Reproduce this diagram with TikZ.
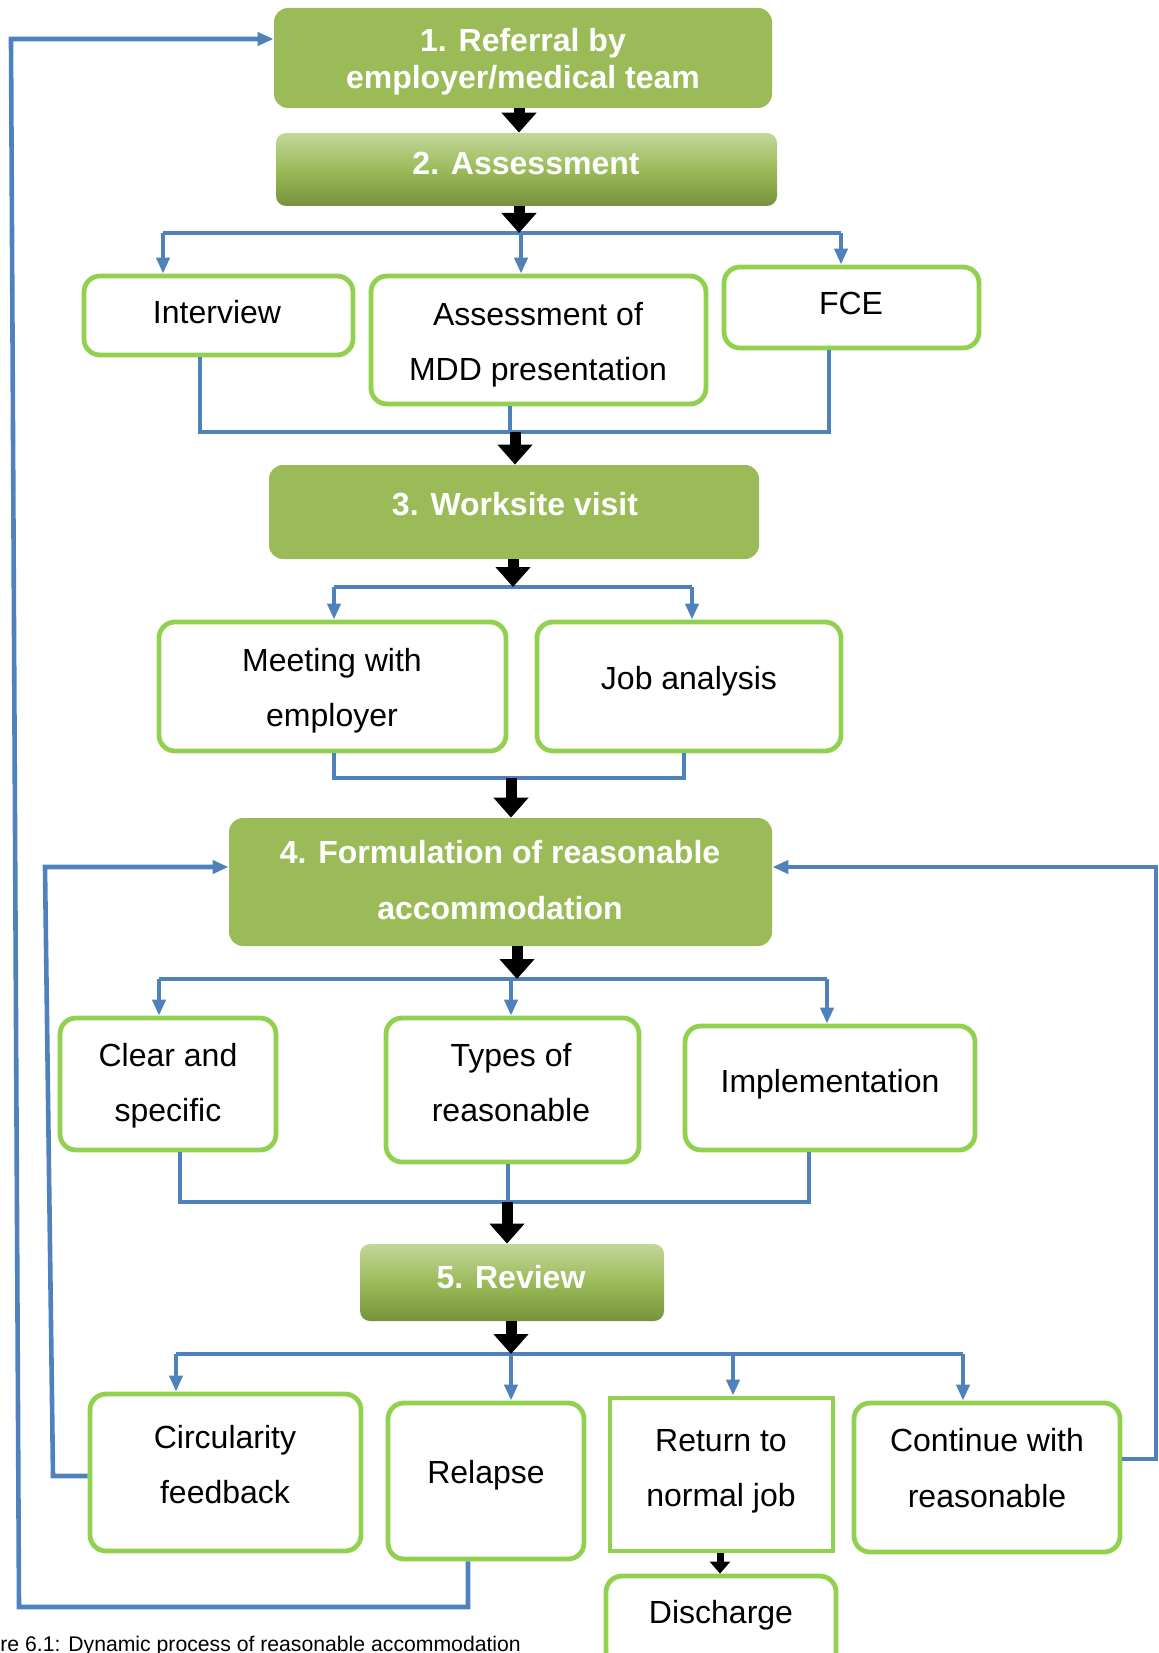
\documentclass[tikz,border=0pt]{standalone}
\usepackage{fontspec}
\setmainfont{Liberation Sans}
\usetikzlibrary{arrows.meta,fit}
\definecolor{gfill}{HTML}{9BBB59}
\definecolor{gtop}{HTML}{C3D69B}
\definecolor{gbot}{HTML}{76923C}
\definecolor{gedge}{HTML}{92D050}
\definecolor{bline}{HTML}{4F81BD}
\tikzset{
 gbox/.style={fill=gfill, rounded corners=7pt, inner sep=0pt},
 gradbox/.style={top color=gtop, bottom color=gbot, middle color=gfill, rounded corners=5pt, inner sep=0pt},
 wbox/.style={draw=gedge, line width=2.4pt, fill=white, rounded corners=8pt, inner sep=0pt},
 sqbox/.style={draw=gedge, line width=2.4pt, fill=white, inner sep=0pt},
 gtxt/.style={text=white, font=\fontsize{16}{18.5}\selectfont\bfseries, align=center, inner sep=0pt, text height=11.5pt, text depth=0pt},
 gtxtw/.style={gtxt, font=\fontsize{16}{28}\selectfont\bfseries},
 wtxt/.style={font=\fontsize{16}{27.75}\selectfont, align=center, inner sep=0pt, text height=11.5pt, text depth=0pt},
 bl/.style={draw=bline, line width=2.3pt},
 blarr/.style={bl, -{Triangle[width=6.5pt,length=8pt]}},
 blk/.style={draw=black, line width=5.5pt, -{Triangle[width=17pt,length=10pt]}},
 blksmall/.style={draw=black, line width=3.5pt, -{Triangle[width=10pt,length=6pt]}},
}
\begin{document}
\begin{tikzpicture}[x=0.5pt,y=-0.5pt]
\useasboundingbox (0,0) rectangle (1158,1653);
\clip (0,0) rectangle (1158,1653);
% boxes
\node[gbox, fit={(274,8) (772,108)}] (b1) {};
\node[gradbox, fit={(276,133) (777,206)}] (b2) {};
\node[wbox, fit={(84,276) (353,355)}] (int) {};
\node[wbox, fit={(371,276) (706,404)}] (mdd) {};
\node[wbox, fit={(724,267) (979,348)}] (fce) {};
\node[gbox, fit={(269,465) (759,559)}] (b3) {};
\node[wbox, fit={(159,622) (506,751)}] (meet) {};
\node[wbox, fit={(537,622) (841,751)}] (job) {};
\node[gbox, fit={(229,818) (772,946)}] (b4) {};
\node[wbox, fit={(60,1018) (276,1150)}] (clear) {};
\node[wbox, fit={(386,1018) (639,1162)}] (types) {};
\node[wbox, fit={(685,1026) (975,1150)}] (impl) {};
\node[gradbox, fit={(360,1244) (664,1321)}] (b5) {};
\node[wbox, fit={(90,1394) (361,1551)}] (circ) {};
\node[wbox, fit={(388,1403) (584,1559)}] (rel) {};
\node[sqbox, fit={(610,1398) (833,1551)}] (ret) {};
\node[wbox, fit={(854,1403) (1120,1552)}] (cont) {};
\node[wbox, fit={(606,1576) (836,1668)}] (dis) {};
% texts
\node[gtxt] (t1) at (523,77) {1. Referral by\\employer/medical team};
\node[gtxt] (t2) at (526,163.5) {2. Assessment};
\node[wtxt] (tint) at (217,312) {Interview};
\node[wtxt] (tmdd) at (538,369) {Assessment of\\MDD presentation};
\node[wtxt] (tfce) at (851,302.7) {FCE};
\node[gtxt] (t3) at (515,504) {3. Worksite visit};
\node[wtxt] (tmeet) at (332,715) {Meeting with\\employer};
\node[wtxt] (tjob) at (689,678) {Job analysis};
\node[gtxtw] (t4) at (500,908) {4. Formulation of reasonable\\accommodation};
\node[wtxt] (tclear) at (168,1110) {Clear and\\specific};
\node[wtxt] (ttypes) at (511,1110) {Types of\\reasonable};
\node[wtxt] (timpl) at (830,1081) {Implementation};
\node[gtxt] (t5) at (511,1277) {5. Review};
\node[wtxt] (tcirc) at (225,1492) {Circularity\\feedback};
\node[wtxt] (trel) at (486,1472) {Relapse};
\node[wtxt] (tret) at (721,1495) {Return to\\normal job};
\node[wtxt] (tcont) at (987,1495.5) {Continue with\\reasonable};
\node[wtxt] (tdis) at (721,1611.5) {Discharge};
\node[anchor=base west, font=\fontsize{10.6}{12}\selectfont, inner sep=0pt] (cap) at (0,1651) {re 6.1: Dynamic process of reasonable accommodation};
% junction coordinates
\coordinate (j2) at (519,233);
\coordinate (jL2) at (163,233);
\coordinate (jM2) at (521,233);
\coordinate (jR2) at (841,233);
\coordinate (mL2) at (200,432);
\coordinate (mM2) at (510,432);
\coordinate (mR2) at (829,432);
\coordinate (m2) at (515,432);
\coordinate (j3) at (513,587);
\coordinate (jL3) at (334,587);
\coordinate (jR3) at (692,587);
\coordinate (mL3) at (334,778);
\coordinate (mR3) at (684,778);
\coordinate (m3) at (511,778);
\coordinate (j4) at (517,979);
\coordinate (jL4) at (159,979);
\coordinate (jM4) at (511,979);
\coordinate (jR4) at (827,979);
\coordinate (mL4) at (180,1202);
\coordinate (mM4) at (508,1202);
\coordinate (mR4) at (809,1202);
\coordinate (m4) at (507,1202);
\coordinate (j5) at (511,1354);
\coordinate (jL5) at (176,1354);
\coordinate (jB5) at (733,1354);
\coordinate (jR5) at (963,1354);
\coordinate (fL1) at (53,1476);
\coordinate (fL2) at (45,867);
\coordinate (fR1) at (1156,1459);
\coordinate (fR2) at (1156,867);
\coordinate (fO1) at (468,1607);
\coordinate (fO2) at (19,1607);
\coordinate (fO3) at (11,39);
\coordinate (jD) at (720,1551);
% blue connectors
\draw[bl] (jL2) -- (jR2);
\draw[blarr] (jL2) -- (jL2 |- int.north);
\draw[blarr] (jM2) -- (jM2 |- mdd.north);
\draw[blarr] (jR2) -- (jR2 |- fce.north);
\draw[bl] (mL2 |- int.south) -- (mL2) -- (mR2) -- (mR2 |- fce.south);
\draw[bl] (mM2 |- mdd.south) -- (mM2);
\draw[bl] (jL3) -- (jR3);
\draw[blarr] (jL3) -- (jL3 |- meet.north);
\draw[blarr] (jR3) -- (jR3 |- job.north);
\draw[bl] (mL3 |- meet.south) -- (mL3) -- (mR3) -- (mR3 |- job.south);
\draw[bl] (jL4) -- (jR4);
\draw[blarr] (jL4) -- (jL4 |- clear.north);
\draw[blarr] (jM4) -- (jM4 |- types.north);
\draw[blarr] (jR4) -- (jR4 |- impl.north);
\draw[bl] (mL4 |- clear.south) -- (mL4) -- (mR4) -- (mR4 |- impl.south);
\draw[bl] (mM4 |- types.south) -- (mM4);
\draw[bl] (jL5) -- (jR5);
\draw[blarr] (jL5) -- (jL5 |- circ.north);
\draw[blarr] (j5) -- (j5 |- rel.north);
\draw[blarr] (jB5) -- (jB5 |- ret.north);
\draw[blarr] (jR5) -- (jR5 |- cont.north);
\draw[blarr] (circ.west |- fL1) -- (fL1) -- (fL2) -- (fL2 -| b4.west);
\draw[blarr] (cont.east |- fR1) -- (fR1) -- (fR2) -- (fR2 -| b4.east);
\draw[blarr] (fO1 |- rel.south) -- (fO1) -- (fO2) -- (fO3) -- (fO3 -| b1.west);
% black arrows
\draw[blk] (b1.south -| j2) -- (j2 |- b2.north);
\draw[blk] (b2.south -| j2) -- (j2);
\draw[blk] (m2) -- (m2 |- b3.north);
\draw[blk] (b3.south -| j3) -- (j3);
\draw[blk] (m3) -- (m3 |- b4.north);
\draw[blk] (b4.south -| j4) -- (j4);
\draw[blk] (m4) -- (m4 |- b5.north);
\draw[blk] (b5.south -| j5) -- (j5);
\draw[blksmall] (ret.south -| jD) -- (jD |- dis.north);
\end{tikzpicture}
\end{document}
